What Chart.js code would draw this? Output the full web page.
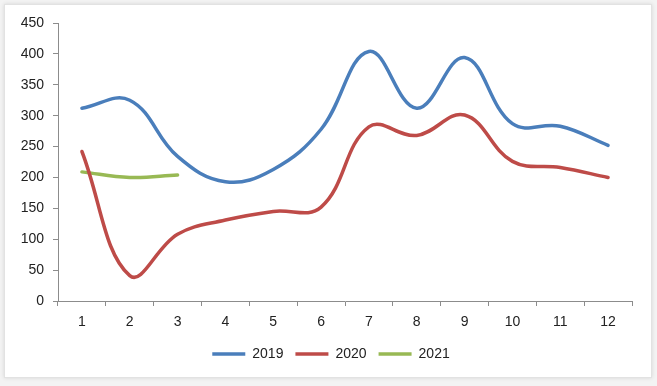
<!DOCTYPE html>
<html>
<head>
<meta charset="utf-8">
<script src="https://cdn.jsdelivr.net/npm/chart.js@4"></script>
<style>
  body { margin: 0; background: #f3f3f3; }
  #wrap { position: relative; width: 657px; height: 386px; }
  #frame { position: absolute; left: 4px; top: 4px; width: 646px; height: 372px;
           background: #fff; border: 1px solid #e2e2e2; box-shadow: 0 0 4px rgba(0,0,0,0.12); }
  #myChart { position: absolute; left: 0; top: 0; }
</style>
</head>
<body>
<div id="wrap">
  <div id="frame"></div>
  <canvas id="myChart" width="657" height="386"></canvas>
</div>
<script>
// categories and series
var months = ['1','2','3','4','5','6','7','8','9','10','11','12'];
var y2019 = [312, 325, 234, 193, 213, 278, 404, 312, 394, 287, 283, 252];
var y2020 = [242, 41, 108, 131, 145, 152, 282, 268, 301, 226, 216, 200];
var y2021 = [209, 200, 204];

var yMin = 0, yMax = 450, yStep = 50;

// nudge the legend a bit to the right, like the original
const legendShift = {
  id: 'legendShift',
  afterLayout: function(chart) {
    chart.legend.left += 15;
    chart.legend.right += 15;
  }
};

const ctx = document.getElementById('myChart');

new Chart(ctx, {
  type: 'line',
  data: {
    labels: months,
    datasets: [
      { label: '2019', data: y2019, borderColor: '#4a7ebb', backgroundColor: '#4a7ebb', borderWidth: 3.5 },
      { label: '2020', data: y2020, borderColor: '#be4b48', backgroundColor: '#be4b48', borderWidth: 3.5 },
      { label: '2021', data: y2021, borderColor: '#98b954', backgroundColor: '#98b954', borderWidth: 3.5 }
    ]
  },
  plugins: [legendShift],
  options: {
    responsive: false,
    animation: false,
    layout: { padding: { top: 23, right: 25, left: 0, bottom: 15 } },
    elements: {
      line: { tension: 0.4, borderCapStyle: 'round' },
      point: { radius: 0, hoverRadius: 0 }
    },
    scales: {
      x: {
        offset: true,
        grid: { drawOnChartArea: false, offset: true, tickLength: 5, color: '#8c8c8c' },
        border: { color: '#8c8c8c' },
        ticks: { color: '#222', font: { size: 14, family: 'Liberation Sans' }, padding: 8, maxRotation: 0 },
        afterFit: function(s) { s.height = 34; }
      },
      y: {
        min: yMin, max: yMax,
        grid: { drawOnChartArea: false, tickLength: 5, color: '#8c8c8c' },
        border: { color: '#8c8c8c' },
        ticks: { stepSize: yStep, color: '#222', font: { size: 14, family: 'Liberation Sans' }, padding: 9 },
        afterFit: function(s) { s.width = 58; }
      }
    },
    plugins: {
      tooltip: { enabled: false },
      legend: {
        position: 'bottom',
        labels: {
          usePointStyle: true,
          pointStyle: 'line',
          pointStyleWidth: 33,
          color: '#222',
          font: { size: 14, family: 'Liberation Sans' },
          padding: 12
        }
      }
    }
  }
});
</script>
</body>
</html>
